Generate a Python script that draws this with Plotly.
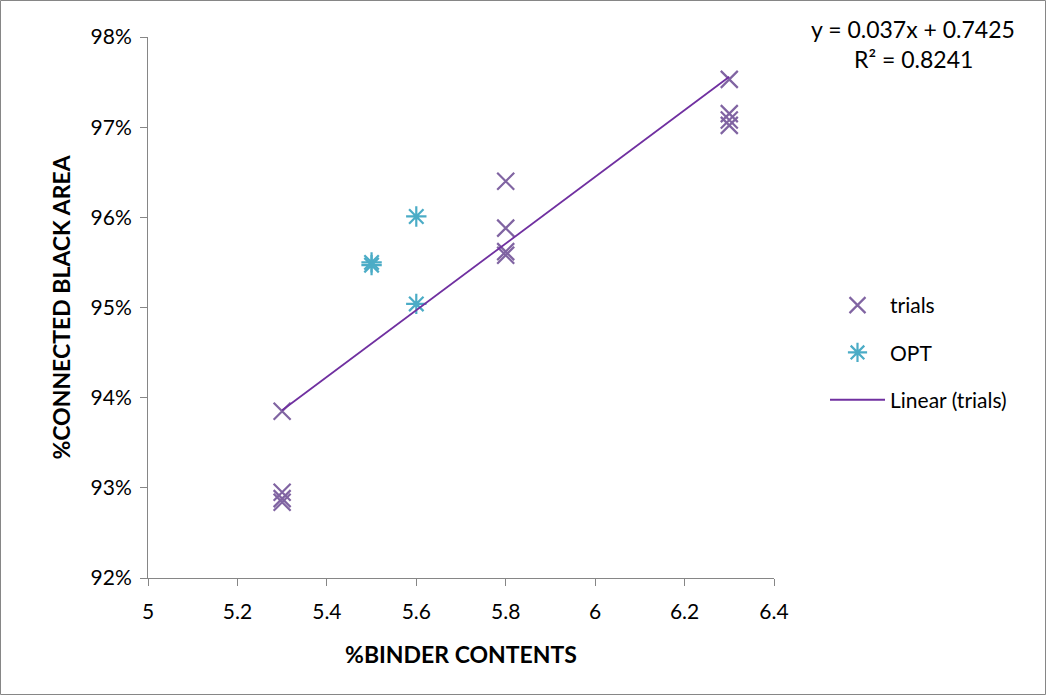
import plotly.graph_objects as go

# Data
trials_x = [5.3, 5.3, 5.3, 5.3, 5.8, 5.8, 5.8, 5.8, 6.3, 6.3, 6.3, 6.3]
trials_y = [0.9385, 0.9295, 0.9288, 0.9284, 0.9640, 0.9588, 0.9562, 0.9558, 0.9753, 0.9715, 0.9708, 0.9702]
opt_x = [5.5, 5.5, 5.6, 5.6]
opt_y = [0.9550, 0.9547, 0.9601, 0.9504]
slope = 0.037
intercept = 0.7425
r2 = 0.8241
fit_x = [5.3, 6.3]
fit_y = [slope * v + intercept for v in fit_x]

FONT = "Lato, Liberation Sans, sans-serif"
W, H = 1047, 696
L, R, T, B = 148, 273, 37, 118
pw, ph = W - L - R, H - T - B

fig = go.Figure()
fig.add_trace(go.Scatter(x=trials_x, y=trials_y, mode="markers", name="trials", legendgroup="a",
                         marker=dict(symbol="x-thin-open", size=17, color="#8064A2",
                                     line=dict(color="#8064A2", width=2.2))))
fig.add_trace(go.Scatter(x=opt_x, y=opt_y, mode="markers", name="OPT", legendgroup="b",
                         marker=dict(symbol="asterisk-open", size=17, color="#4BACC6",
                                     line=dict(color="#4BACC6", width=2.2))))
fig.add_trace(go.Scatter(x=fit_x, y=fit_y, mode="lines", name="Linear (trials)", legendgroup="c",
                         line=dict(color="#7030A0", width=1.8)))

fig.update_layout(
    width=W, height=H,
    margin=dict(l=L, r=R, t=T, b=B),
    paper_bgcolor="white", plot_bgcolor="white",
    font=dict(family=FONT, size=21, color="black"),
    showlegend=True,
    legend=dict(x=(825 - L) / pw, y=(578 - 285) / ph, xanchor="left", yanchor="top",
                tracegroupgap=17, itemwidth=55, font=dict(size=21),
                bgcolor="rgba(0,0,0,0)"),
    xaxis=dict(range=[5, 6.4], dtick=0.2, tick0=5, showgrid=False, zeroline=False,
               showline=True, linecolor="#868686", linewidth=1, automargin=False,
               ticks="outside", ticklen=7, tickcolor="#868686", ticklabelstandoff=8,
               title=dict(text="<b>%BINDER CONTENTS</b>", font=dict(size=23), standoff=24)),
    yaxis=dict(range=[0.92, 0.98], dtick=0.01, tickformat=".0%", showgrid=False, zeroline=False,
               showline=True, linecolor="#868686", linewidth=1, automargin=False,
               ticks="outside", ticklen=7, tickcolor="#868686", ticklabelstandoff=4,
               title=dict(text="<b>%CONNECTED BLACK AREA</b>", font=dict(size=23), standoff=13)),
)

fig.add_annotation(xref="paper", yref="paper", x=(913 - L) / pw, y=1 + (37 - 29) / ph,
                   text=f"y = {slope}x + {intercept}", showarrow=False, font=dict(size=23),
                   xanchor="center", yanchor="middle")
fig.add_annotation(xref="paper", yref="paper", x=(913 - L) / pw, y=1 + (37 - 59) / ph,
                   text=f"R² = {r2}", showarrow=False, font=dict(size=23),
                   xanchor="center", yanchor="middle")

fig.add_shape(type="rect", xref="paper", yref="paper",
              x0=(0.5 - L) / pw, x1=(W - 1.5 - L) / pw,
              y0=-(H - 1.5 - (T + ph)) / ph, y1=1 + (T - 0.5) / ph,
              line=dict(color="#868686", width=1), layer="below")

fig.write_html("out.html", config={"displayModeBar": False},
               post_script="document.body.style.margin='0';")
